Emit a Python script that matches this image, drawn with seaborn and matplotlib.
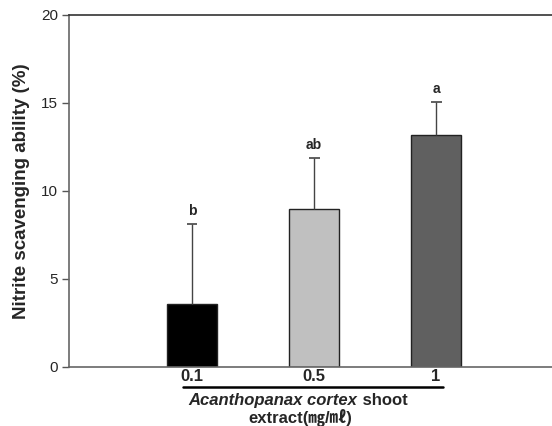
import matplotlib
matplotlib.use("Agg")
import matplotlib.pyplot as plt
import seaborn as sns
import pandas as pd
import numpy as np

categories = ["0.1", "0.5", "1"]
values = [3.6, 9.0, 13.2]
errors = [4.5, 2.85, 1.85]
letters = ["b", "ab", "a"]
colors = ["#000000", "#c0c0c0", "#606060"]

sns.set_theme(style="white")
plt.rcParams['font.family'] = ['Liberation Sans', 'Noto Sans CJK KR', 'DejaVu Sans']

df = pd.DataFrame({"conc": categories, "val": values})

fig = plt.figure(figsize=(5.52, 4.26), dpi=100)
ax = fig.add_axes([0.125, 0.1385, 0.875, 0.8263])

sns.barplot(data=df, x="conc", y="val", hue="conc", palette=colors, legend=False,
            width=0.41, edgecolor="#222222", linewidth=1.0, ax=ax, errorbar=None)

xs = np.arange(len(categories))
vals = np.array(values)
tops = vals + np.array(errors)
ax.vlines(xs, vals, tops, color="#444444", lw=1.0)
ax.hlines(tops, xs - 0.045, xs + 0.045, color="#444444", lw=1.2)
for x, t, l in zip(xs, tops, letters):
    ax.text(x, t + 0.35, l, ha="center", va="bottom", fontsize=10, fontweight="bold")

ax.set_xlim(-1.008, 2.95)
ax.set_ylim(0, 20)
ax.set_yticks([0, 5, 10, 15, 20])
ax.tick_params(axis="y", direction="out", length=5, width=1, color="#555555", labelsize=11, pad=3, left=True)
ax.tick_params(axis="x", length=0, labelsize=12, pad=1.5)
for lbl in ax.get_xticklabels():
    lbl.set_fontweight("bold")
ax.set_xlabel("")
ax.set_ylabel("Nitrite scavenging ability (%)", fontsize=13.5, fontweight="bold", labelpad=8)

for s in ["left", "bottom", "top"]:
    ax.spines[s].set_visible(True)
    ax.spines[s].set_linewidth(1.2)
ax.spines["left"].set_color("#666666")
ax.spines["bottom"].set_color("#666666")
ax.spines["top"].set_color("#333333")
ax.spines["right"].set_visible(False)

tr = ax.get_xaxis_transform()
ax.plot([-0.07, 2.06], [-0.058, -0.058], color="black", lw=1.8, transform=tr, clip_on=False)
ax.text(1.352, -0.094, "Acanthopanax cortex", transform=tr, ha="right", va="center",
        fontsize=12, fontweight="bold", fontstyle="italic")
ax.text(1.36, -0.094, " shoot", transform=tr, ha="left", va="center", fontsize=12, fontweight="bold")
ax.text(0.885, -0.145, "extract(㎎/㎖)", transform=tr, ha="center", va="center", fontsize=12, fontweight="bold")

fig.savefig("out.png", dpi=100)
